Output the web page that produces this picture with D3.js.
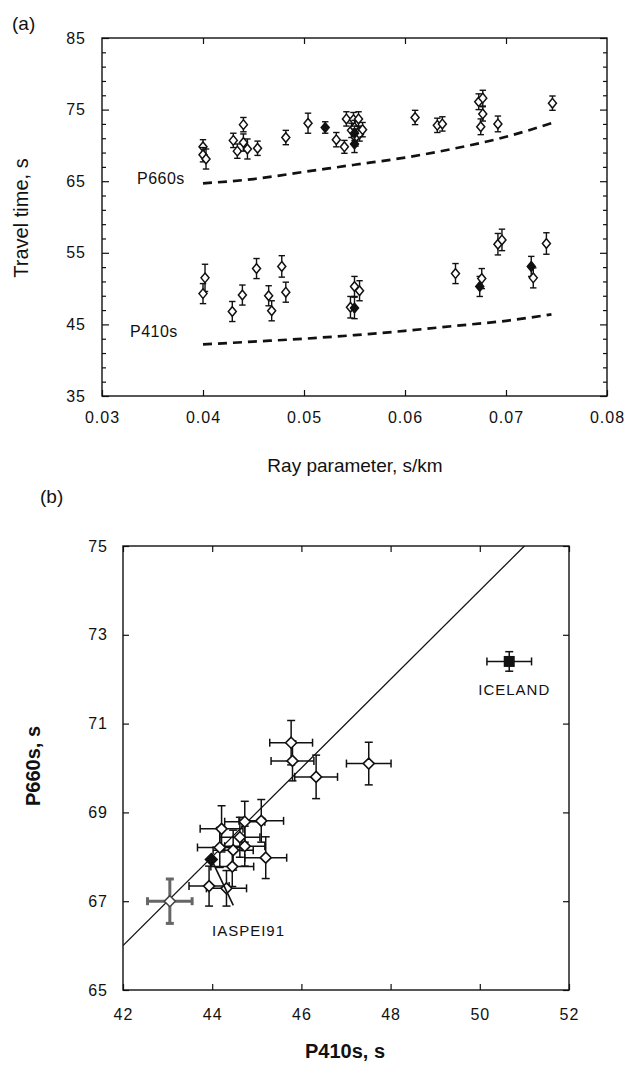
<!DOCTYPE html>
<html>
<head>
<meta charset="utf-8">
<script src="https://cdn.jsdelivr.net/npm/d3@7"></script>
<style>
  body { margin: 0; background: #fff; }
  text { font-family: "Liberation Sans", Arial, Helvetica, sans-serif; fill: #111; }
</style>
</head>
<body>
<svg id="fig" width="628" height="1074"></svg>
<script>
// ---- panel (a): [ray parameter, travel time, error, filled]
let p660Points = [
    [0.0400, 69.8, 1.0, 0], [0.0400, 68.7, 1.0, 0], [0.0403, 68.1, 1.4, 0],
    [0.0430, 70.7, 1.0, 0], [0.0434, 69.2, 1.0, 0], [0.0440, 72.9, 1.0, 0],
    [0.0440, 70.4, 1.2, 0], [0.0444, 69.5, 1.4, 0], [0.0454, 69.6, 1.0, 0],
    [0.0482, 71.1, 1.0, 0], [0.0504, 73.1, 1.4, 0], [0.0521, 72.5, 0.8, 1],
    [0.0532, 70.8, 1.0, 0], [0.0540, 69.8, 0.9, 0], [0.0542, 73.7, 1.0, 0],
    [0.0547, 72.1, 1.0, 0], [0.0549, 73.6, 1.0, 0], [0.0550, 72.5, 1.0, 0],
    [0.0551, 71.1, 1.2, 0], [0.0550, 70.2, 1.2, 1], [0.0554, 73.7, 1.0, 0],
    [0.0555, 71.6, 1.0, 0], [0.0558, 72.2, 1.0, 0], [0.0550, 71.7, 1.0, 1],
    [0.0610, 73.9, 1.0, 0], [0.0632, 72.8, 1.0, 0], [0.0637, 73.0, 1.0, 0],
    [0.0673, 76.1, 1.1, 0], [0.0677, 76.6, 1.1, 0], [0.0677, 74.4, 1.0, 0],
    [0.0675, 72.6, 1.1, 0], [0.0692, 73.0, 1.1, 0], [0.0746, 75.9, 1.0, 0]
];
let p410Points = [
    [0.0402, 51.5, 1.9, 0], [0.0400, 49.3, 1.4, 0], [0.0429, 46.8, 1.4, 0],
    [0.0439, 49.1, 1.4, 0], [0.0453, 52.8, 1.4, 0], [0.0465, 49.0, 1.4, 0],
    [0.0468, 46.9, 1.4, 0], [0.0478, 53.1, 1.5, 0], [0.0482, 49.5, 1.4, 0],
    [0.0546, 47.4, 1.5, 0], [0.0550, 47.3, 1.5, 1], [0.0550, 50.3, 1.4, 0],
    [0.0555, 49.7, 1.4, 0], [0.0650, 52.1, 1.4, 0], [0.0674, 50.3, 1.4, 1],
    [0.0676, 51.4, 1.4, 0], [0.0692, 56.2, 1.5, 0], [0.0696, 56.8, 1.5, 0],
    [0.0725, 53.1, 1.4, 1], [0.0727, 51.5, 1.4, 0], [0.0740, 56.3, 1.5, 0]
];
let p660Curve = [[0.040, 64.7], [0.045, 65.3], [0.050, 66.3], [0.055, 67.3],
                 [0.060, 68.3], [0.065, 69.6], [0.070, 71.2], [0.0745, 73.1]];
let p410Curve = [[0.040, 42.2], [0.045, 42.6], [0.050, 43.0], [0.055, 43.5],
                 [0.060, 44.1], [0.065, 44.8], [0.070, 45.5], [0.0745, 46.4]];
let rayTicks = [0.03, 0.04, 0.05, 0.06, 0.07, 0.08];
let timeTicks = [35, 45, 55, 65, 75, 85];
let timeMinor = [37, 39, 41, 43, 47, 49, 51, 53, 57, 59, 61, 63, 67, 69, 71, 73, 77, 79, 81, 83];

// ---- panel (b): [P410s, P660s, x error, y error]
let stations = [
    [45.77, 70.57, 0.48, 0.50], [45.80, 70.16, 0.48, 0.45], [46.33, 69.80, 0.48, 0.49],
    [47.51, 70.10, 0.50, 0.48], [44.73, 68.79, 0.45, 0.46], [45.10, 68.81, 0.50, 0.48],
    [44.21, 68.63, 0.48, 0.52], [44.62, 68.44, 0.45, 0.45], [44.17, 68.21, 0.50, 0.45],
    [44.47, 68.15, 0.45, 0.45], [44.73, 68.24, 0.45, 0.45], [45.20, 67.98, 0.47, 0.47],
    [44.45, 67.78, 0.48, 0.45], [43.93, 67.34, 0.45, 0.45], [44.32, 67.29, 0.45, 0.40]
];
let iaspei = [43.98, 67.94];
let iceland = [50.66, 72.40, 0.50, 0.22];
let greyPoint = [43.05, 67.00, 0.50, 0.50];
let fitLine = [[42, 66], [51, 75]];
let p410Ticks = [42, 44, 46, 48, 50, 52];
let p660Ticks = [65, 67, 69, 71, 73, 75];

let svg = d3.select('#fig');

// diamond of half width w and half height h
function diamond(cx, cy, w, h){
    return 'M' + cx + ',' + (cy - h) + 'L' + (cx + w) + ',' + cy +
           'L' + cx + ',' + (cy + h) + 'L' + (cx - w) + ',' + cy + 'Z';
}

function styleTicks(g, size){
    g.select('.domain').remove();
    g.selectAll('line').attr('stroke', '#111').attr('stroke-width', 1.2);
    g.selectAll('text').attr('font-size', size).attr('fill', '#111')
        .attr('letter-spacing', '1px')
        .attr('font-family', '"Liberation Sans", Arial, sans-serif');
}

// ================= panel (a)
let ax = {left: 102, right: 607, top: 38, bottom: 396};
let xA = d3.scaleLinear().domain([0.03, 0.08]).range([ax.left, ax.right]);
let yA = d3.scaleLinear().domain([35, 85]).range([ax.bottom, ax.top]);

let gA = svg.append('g');

gA.append('g').attr('transform', 'translate(0,' + ax.bottom + ')')
    .call(d3.axisBottom(xA).tickValues(rayTicks).tickSize(-6).tickPadding(16)
        .tickFormat(d3.format('.2f')))
    .call(g => styleTicks(g, '16px'));
gA.append('g').attr('transform', 'translate(0,' + ax.top + ')')
    .call(d3.axisTop(xA).tickValues(rayTicks.slice(1, -1)).tickSize(-6).tickFormat(''))
    .call(g => styleTicks(g, '16px'));
gA.append('g').attr('transform', 'translate(' + ax.left + ',0)')
    .call(d3.axisLeft(yA).tickValues(timeTicks).tickSize(-7).tickPadding(16))
    .call(g => styleTicks(g, '16px'));
gA.append('g').attr('transform', 'translate(' + ax.left + ',0)')
    .call(d3.axisLeft(yA).tickValues(timeMinor).tickSize(-4).tickFormat(''))
    .call(g => styleTicks(g, '16px'));
gA.append('g').attr('transform', 'translate(' + ax.right + ',0)')
    .call(d3.axisRight(yA).tickValues(timeTicks).tickSize(-7).tickFormat(''))
    .call(g => styleTicks(g, '16px'));
gA.append('g').attr('transform', 'translate(' + ax.right + ',0)')
    .call(d3.axisRight(yA).tickValues(timeMinor).tickSize(-4).tickFormat(''))
    .call(g => styleTicks(g, '16px'));

gA.append('rect')
    .attr('x', ax.left).attr('y', ax.top)
    .attr('width', ax.right - ax.left).attr('height', ax.bottom - ax.top)
    .attr('fill', 'none').attr('stroke', '#111').attr('stroke-width', 1.4);

// dashed model curves
let lineA = d3.line().x(d => xA(d[0])).y(d => yA(d[1])).curve(d3.curveMonotoneX);
[p660Curve, p410Curve].forEach(function(c){
    gA.append('path').attr('d', lineA(c))
        .attr('fill', 'none').attr('stroke', '#111')
        .attr('stroke-width', 2.7).attr('stroke-dasharray', '9,6');
});

// measured points with error bars
function drawA(points){
    let g = gA.append('g');
    points.forEach(function(d){
        let cx = xA(d[0]), cy = yA(d[1]);
        let y1 = yA(d[1] + d[2]), y2 = yA(d[1] - d[2]);
        g.append('line').attr('x1', cx).attr('x2', cx).attr('y1', y1).attr('y2', y2)
            .attr('stroke', '#111').attr('stroke-width', 1.4);
        [y1, y2].forEach(function(yy){
            g.append('line').attr('x1', cx - 3.2).attr('x2', cx + 3.2).attr('y1', yy).attr('y2', yy)
                .attr('stroke', '#111').attr('stroke-width', 1.4);
        });
        g.append('path').attr('d', diamond(cx, cy, 4, 4.8))
            .attr('fill', d[3] ? '#111' : '#fff')
            .attr('stroke', '#111').attr('stroke-width', 1.5);
    });
}
drawA(p660Points);
drawA(p410Points);

gA.append('text').attr('x', 137).attr('y', 184).attr('font-size', '16px')
    .attr('letter-spacing', '0.5px').text('P660s');
gA.append('text').attr('x', 130).attr('y', 337).attr('font-size', '16px')
    .attr('letter-spacing', '0.5px').text('P410s');
gA.append('text').attr('x', 12).attr('y', 30).attr('font-size', '19px').text('(a)');
gA.append('text').attr('x', 355).attr('y', 472).attr('text-anchor', 'middle')
    .attr('font-size', '19px').text('Ray parameter, s/km');
gA.append('text').attr('transform', 'translate(28,218) rotate(-90)')
    .attr('text-anchor', 'middle').attr('font-size', '20px').text('Travel time, s');

// ================= panel (b)
let bx = {left: 123, right: 569, top: 546, bottom: 990};
let xB = d3.scaleLinear().domain([42, 52]).range([bx.left, bx.right]);
let yB = d3.scaleLinear().domain([65, 75]).range([bx.bottom, bx.top]);

let gB = svg.append('g');

gB.append('g').attr('transform', 'translate(0,' + bx.bottom + ')')
    .call(d3.axisBottom(xB).tickValues(p410Ticks).tickSize(-6).tickPadding(19))
    .call(g => styleTicks(g, '16px'));
gB.append('g').attr('transform', 'translate(0,' + bx.top + ')')
    .call(d3.axisTop(xB).tickValues(p410Ticks).tickSize(-6).tickFormat(''))
    .call(g => styleTicks(g, '16px'));
gB.append('g').attr('transform', 'translate(' + bx.left + ',0)')
    .call(d3.axisLeft(yB).tickValues(p660Ticks).tickSize(-6).tickPadding(15))
    .call(g => styleTicks(g, '16px'));
gB.append('g').attr('transform', 'translate(' + bx.right + ',0)')
    .call(d3.axisRight(yB).tickValues(p660Ticks).tickSize(-6).tickFormat(''))
    .call(g => styleTicks(g, '16px'));

gB.append('rect')
    .attr('x', bx.left).attr('y', bx.top)
    .attr('width', bx.right - bx.left).attr('height', bx.bottom - bx.top)
    .attr('fill', 'none').attr('stroke', '#111').attr('stroke-width', 1.4);

// clip the 1:1 line to the frame
gB.append('clipPath').attr('id', 'clipB').append('rect')
    .attr('x', bx.left).attr('y', bx.top)
    .attr('width', bx.right - bx.left).attr('height', bx.bottom - bx.top);
gB.append('path')
    .attr('d', d3.line().x(d => xB(d[0])).y(d => yB(d[1]))(fitLine))
    .attr('clip-path', 'url(#clipB)')
    .attr('fill', 'none').attr('stroke', '#111').attr('stroke-width', 1.3);

function crossBars(g, d, color, width){
    let cx = xB(d[0]), cy = yB(d[1]);
    let xl = xB(d[0] - d[2]), xr = xB(d[0] + d[2]);
    let yt = yB(d[1] + d[3]), yb = yB(d[1] - d[3]);
    g.append('line').attr('x1', xl).attr('x2', xr).attr('y1', cy).attr('y2', cy)
        .attr('stroke', color).attr('stroke-width', width);
    g.append('line').attr('x1', cx).attr('x2', cx).attr('y1', yt).attr('y2', yb)
        .attr('stroke', color).attr('stroke-width', width);
    [xl, xr].forEach(function(xx){
        g.append('line').attr('x1', xx).attr('x2', xx).attr('y1', cy - 4).attr('y2', cy + 4)
            .attr('stroke', color).attr('stroke-width', width);
    });
    [yt, yb].forEach(function(yy){
        g.append('line').attr('x1', cx - 4).attr('x2', cx + 4).attr('y1', yy).attr('y2', yy)
            .attr('stroke', color).attr('stroke-width', width);
    });
}

let pts = gB.append('g');
crossBars(pts, greyPoint, '#666', 3);
pts.append('path').attr('d', diamond(xB(greyPoint[0]), yB(greyPoint[1]), 5.5, 5.5))
    .attr('fill', '#fff').attr('stroke', '#444').attr('stroke-width', 1.6);

stations.forEach(function(d){
    crossBars(pts, d, '#111', 1.5);
});
stations.forEach(function(d){
    pts.append('path').attr('d', diamond(xB(d[0]), yB(d[1]), 5.5, 5.5))
        .attr('fill', '#fff').attr('stroke', '#111').attr('stroke-width', 1.6);
});

// IASPEI91 reference point and leader
pts.append('path').attr('d', diamond(xB(iaspei[0]), yB(iaspei[1]), 6, 6))
    .attr('fill', '#111').attr('stroke', '#111').attr('stroke-width', 1.4);
pts.append('line')
    .attr('x1', xB(iaspei[0]) + 2).attr('y1', yB(iaspei[1]) + 4)
    .attr('x2', xB(iaspei[0]) + 22).attr('y2', yB(iaspei[1]) + 46)
    .attr('stroke', '#111').attr('stroke-width', 1.6);
gB.append('text').attr('x', 212).attr('y', 936).attr('font-size', '15px')
    .attr('letter-spacing', '1px').text('IASPEI91');

// Iceland
crossBars(pts, iceland, '#111', 1.5);
pts.append('rect')
    .attr('x', xB(iceland[0]) - 5.5).attr('y', yB(iceland[1]) - 5.5)
    .attr('width', 11).attr('height', 11).attr('fill', '#111');
gB.append('text').attr('x', xB(iceland[0]) - 31).attr('y', yB(iceland[1]) + 34)
    .attr('font-size', '15px').attr('letter-spacing', '1px').text('ICELAND');

gB.append('text').attr('x', 40).attr('y', 503).attr('font-size', '19px').text('(b)');
gB.append('text').attr('x', 345).attr('y', 1058).attr('text-anchor', 'middle')
    .attr('font-size', '20px').attr('font-weight', 'bold').text('P410s, s');
gB.append('text').attr('transform', 'translate(40,766) rotate(-90)')
    .attr('text-anchor', 'middle').attr('font-size', '20px').attr('font-weight', 'bold')
    .text('P660s, s');
</script>
</body>
</html>
